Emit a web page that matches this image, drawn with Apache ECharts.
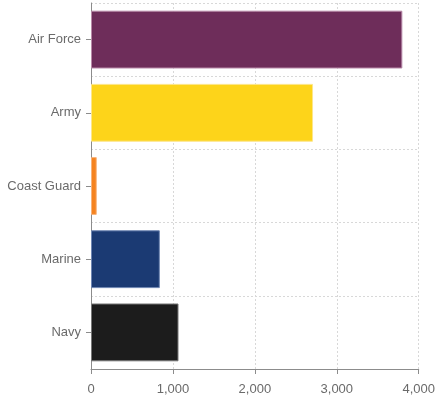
<!DOCTYPE html>
<html><head><meta charset="utf-8">
<script src="https://cdn.jsdelivr.net/npm/echarts@6/dist/echarts.min.js"></script>
<style>html,body{margin:0;padding:0;background:#fff}#c{width:438px;height:402px}</style>
</head><body><div id="c"></div>
<script>
const categories = ["Air Force", "Army", "Coast Guard", "Marine", "Navy"];
const values = [3800, 2710, 70, 840, 1068];
const colors = ["#6e2d5a", "#fdd41a", "#f5831f", "#1b3a73", "#1c1c1c"];
const borders = ["#b88aa8", "#fde68a", "#f8b27a", "#6f86b3", "#777777"];
const xTicks = [0, 1000, 2000, 3000, 4000];

const chart = echarts.init(document.getElementById('c'));
chart.setOption({
  animation: false,
  grid: { left: 91, right: 14, top: 3, bottom: 33, containLabel: false },
  xAxis: {
    type: 'value', min: xTicks[0], max: xTicks[xTicks.length - 1], interval: 1000,
    axisLine: { show: true, lineStyle: { color: '#8c8c8c' } },
    axisTick: { show: true, length: 5, lineStyle: { color: '#8c8c8c' } },
    axisLabel: { color: '#6a6a6a', fontSize: 13, fontFamily: 'Liberation Sans, Arial', margin: 14,
      formatter: v => v.toLocaleString('en-US') },
    splitLine: { show: true, lineStyle: { color: '#d8d8d8', type: [2, 2] } }
  },
  yAxis: {
    type: 'category', data: categories, inverse: true,
    axisLine: { show: true, lineStyle: { color: '#8c8c8c' } },
    axisTick: { show: true, alignWithLabel: true, length: 5, lineStyle: { color: '#8c8c8c' } },
    axisLabel: { color: '#6a6a6a', fontSize: 13, fontFamily: 'Liberation Sans, Arial', margin: 10 },
    splitLine: { show: true, lineStyle: { color: '#d8d8d8', type: [2, 2] } }
  },
  series: [{
    type: 'bar',
    barCategoryGap: '21%',
    data: values.map((v, i) => ({ value: v, itemStyle: { color: colors[i], borderColor: borders[i], borderWidth: 1 } }))
  }]
});
</script></body></html>
